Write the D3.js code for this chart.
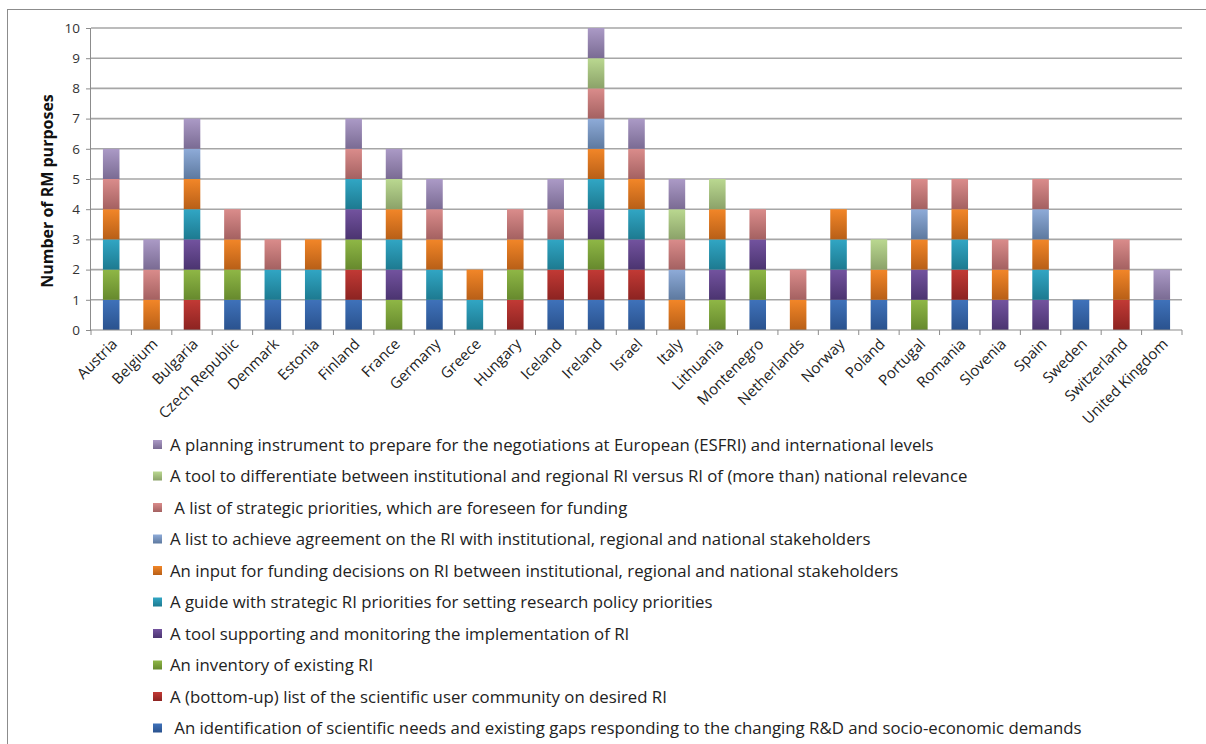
<!DOCTYPE html>
<html>
<head>
<meta charset="utf-8">
<script src="https://cdn.jsdelivr.net/npm/d3@7"></script>
<style>
  body { margin: 0; background: #fff; }
  text { font-family: "Open Sans", Lato, sans-serif; fill: #222; }
</style>
</head>
<body>
<div id="chart"></div>
<script>
// countries on the x axis
const countries = ['Austria', 'Belgium', 'Bulgaria', 'Czech Republic', 'Denmark', 'Estonia', 'Finland',
  'France', 'Germany', 'Greece', 'Hungary', 'Iceland', 'Ireland', 'Israel', 'Italy', 'Lithuania',
  'Montenegro', 'Netherlands', 'Norway', 'Poland', 'Portugal', 'Romania', 'Slovenia', 'Spain',
  'Sweden', 'Switzerland', 'United Kingdom'];

// RM purposes, bottom of the stack first
const purposes = [
  ' An identification of scientific needs and existing gaps responding to the changing R&D and socio-economic demands',
  'A (bottom-up) list of the scientific user community on desired RI',
  'An inventory of existing RI',
  'A tool supporting and monitoring the implementation of RI',
  'A guide with strategic RI priorities for setting research policy priorities',
  'An input for funding decisions on RI between institutional, regional and national stakeholders',
  'A list to achieve agreement on the RI with institutional, regional and national stakeholders',
  ' A list of strategic priorities, which are foreseen for funding',
  'A tool to differentiate between institutional and regional RI versus RI of (more than) national relevance',
  'A planning instrument to prepare for the negotiations at European (ESFRI) and international levels'
];

// one row per purpose, one value per country (same order as countries)
const identification = [1,0,0,1,1,1,1,0,1,0,0,1,1,1,0,0,1,0,1,1,0,1,0,0,1,0,1];
const bottomUp       = [0,0,1,0,0,0,1,0,0,0,1,1,1,1,0,0,0,0,0,0,0,1,0,0,0,1,0];
const inventory      = [1,0,1,1,0,0,1,1,0,0,1,0,1,0,0,1,1,0,0,0,1,0,0,0,0,0,0];
const monitoring     = [0,0,1,0,0,0,1,1,0,0,0,0,1,1,0,1,1,0,1,0,1,0,1,1,0,0,0];
const guide          = [1,0,1,0,1,1,1,1,1,1,0,1,1,1,0,1,0,0,1,0,0,1,0,1,0,0,0];
const fundingInput   = [1,1,1,1,0,1,0,1,1,1,1,0,1,1,1,1,0,1,1,1,1,1,1,1,0,1,0];
const agreement      = [0,0,1,0,0,0,0,0,0,0,0,0,1,0,1,0,0,0,0,0,1,0,0,1,0,0,0];
const priorities     = [1,1,0,1,1,0,1,0,1,0,1,1,1,1,1,0,1,1,0,0,1,1,1,1,0,1,0];
const differentiate  = [0,0,0,0,0,0,0,1,0,0,0,0,1,0,1,1,0,0,0,1,0,0,0,0,0,0,0];
const planning       = [1,1,1,0,0,0,1,1,1,0,0,1,1,1,1,0,0,0,0,0,0,0,0,0,0,0,1];

const seriesValues = [identification, bottomUp, inventory, monitoring, guide,
  fundingInput, agreement, priorities, differentiate, planning];

const yTicks = [0, 1, 2, 3, 4, 5, 6, 7, 8, 9, 10];

// gradient top / bottom per purpose
const colors = [
  ['#3f72ba', '#2a528e'], ['#c23a35', '#8c2321'], ['#8fb746', '#66892d'],
  ['#73539f', '#4b3470'], ['#31a6c4', '#1d7a90'], ['#f28628', '#b85f17'],
  ['#8eabd8', '#5d799f'], ['#da8c8b', '#a46161'], ['#bad890', '#8ba269'],
  ['#ab9ac6', '#7a6b93']
];

const width = 1206;
const height = 744;
const margin = { top: 28, right: 24, bottom: 414, left: 91 };
const chartWidth = width - margin.left - margin.right;
const chartHeight = 330 - margin.top;

const table = countries.map((c, i) => {
  const row = { country: c };
  seriesValues.forEach((s, k) => { row[k] = s[i]; });
  return row;
});
const stacked = d3.stack().keys(d3.range(purposes.length))(table);

const svg = d3.select('#chart').append('svg').attr('width', width).attr('height', height);

// outer chart frame
svg.append('rect')
  .attr('x', 7.5).attr('y', 9.5).attr('width', 1220).attr('height', 760)
  .attr('fill', 'none').attr('stroke', '#8c8c8c').attr('stroke-width', 1);

const defs = svg.append('defs');
colors.forEach((c, k) => {
  const g = defs.append('linearGradient').attr('id', 'grad' + k)
    .attr('x1', 0).attr('y1', 0).attr('x2', 0).attr('y2', 1);
  g.append('stop').attr('offset', '0%').attr('stop-color', c[0]);
  g.append('stop').attr('offset', '100%').attr('stop-color', c[1]);
});

const x = d3.scaleBand().domain(countries).range([0, chartWidth]).paddingInner(0.59).paddingOuter(0.295);
const y = d3.scaleLinear().domain([0, 10]).range([chartHeight, 0]);

const chart = svg.append('g').attr('transform', `translate(${margin.left}, ${margin.top})`);

// gridlines
chart.append('g')
  .selectAll('line')
  .data(yTicks.slice(1))
  .enter()
  .append('line')
  .attr('x1', 0).attr('x2', chartWidth)
  .attr('y1', (d) => y(d)).attr('y2', (d) => y(d))
  .attr('stroke', '#a6a6a6').attr('stroke-width', 1.6);

// bars
chart.selectAll('.series')
  .data(stacked)
  .enter()
  .append('g')
  .attr('class', 'series')
  .attr('fill', (d) => `url(#grad${d.key})`)
  .selectAll('rect')
  .data((d) => d.filter((p) => p[1] > p[0]))
  .enter()
  .append('rect')
  .attr('x', (d) => x(d.data.country))
  .attr('y', (d) => y(d[1]))
  .attr('width', x.bandwidth())
  .attr('height', (d) => y(d[0]) - y(d[1]));

// x axis with ticks between categories
const xAxis = chart.append('g').attr('transform', `translate(0, ${chartHeight})`);
xAxis.append('line').attr('x1', 0).attr('x2', chartWidth).attr('stroke', '#8c8c8c').attr('stroke-width', 1.2);
xAxis.selectAll('.tick')
  .data(d3.range(countries.length + 1))
  .enter()
  .append('line')
  .attr('x1', (i) => i * x.step()).attr('x2', (i) => i * x.step())
  .attr('y1', 0).attr('y2', 5)
  .attr('stroke', '#8c8c8c');
xAxis.selectAll('.xlabel')
  .data(countries)
  .enter()
  .append('text')
  .attr('class', 'xlabel')
  .attr('transform', (d) => `translate(${x(d) + x.bandwidth() / 2 + 7}, 15) rotate(-45)`)
  .attr('text-anchor', 'end')
  .style('font-size', '15px')
  .text((d) => d);

// y axis
const yAxis = chart.append('g')
  .call(d3.axisLeft(y).tickValues(yTicks).tickSize(5).tickPadding(6).tickFormat(d3.format('d')));
yAxis.select('.domain').attr('stroke', '#8c8c8c').attr('d', `M-0.5,${chartHeight}V0`);
yAxis.selectAll('.tick line').attr('stroke', '#8c8c8c');
yAxis.selectAll('.tick text').style('font-size', '13.5px').style('fill', '#333').style('font-family', '"Open Sans", sans-serif');

svg.append('text')
  .attr('transform', `translate(53, ${margin.top + chartHeight / 2 + 12}) rotate(-90)`)
  .attr('text-anchor', 'middle')
  .style('font-size', '16px')
  .style('font-weight', 'bold')
  .style('fill', '#111')
  .text('Number of RM purposes');

// legend, top entry is the top of the stack
const legendItems = purposes.map((p, k) => ({ label: p, key: k })).reverse();
const legend = svg.append('g').attr('transform', 'translate(153, 445)');
const item = legend.selectAll('.item')
  .data(legendItems)
  .enter()
  .append('g')
  .attr('transform', (d, i) => `translate(0, ${i * 31.5})`);
item.append('rect')
  .attr('x', 0).attr('y', -5).attr('width', 9).attr('height', 9)
  .attr('fill', (d) => `url(#grad${d.key})`);
item.append('text')
  .attr('x', 17).attr('y', 5.5)
  .attr('xml:space', 'preserve')
  .style('white-space', 'pre')
  .style('font-size', '16.8px')
  .text((d) => d.label);
</script>
</body>
</html>
